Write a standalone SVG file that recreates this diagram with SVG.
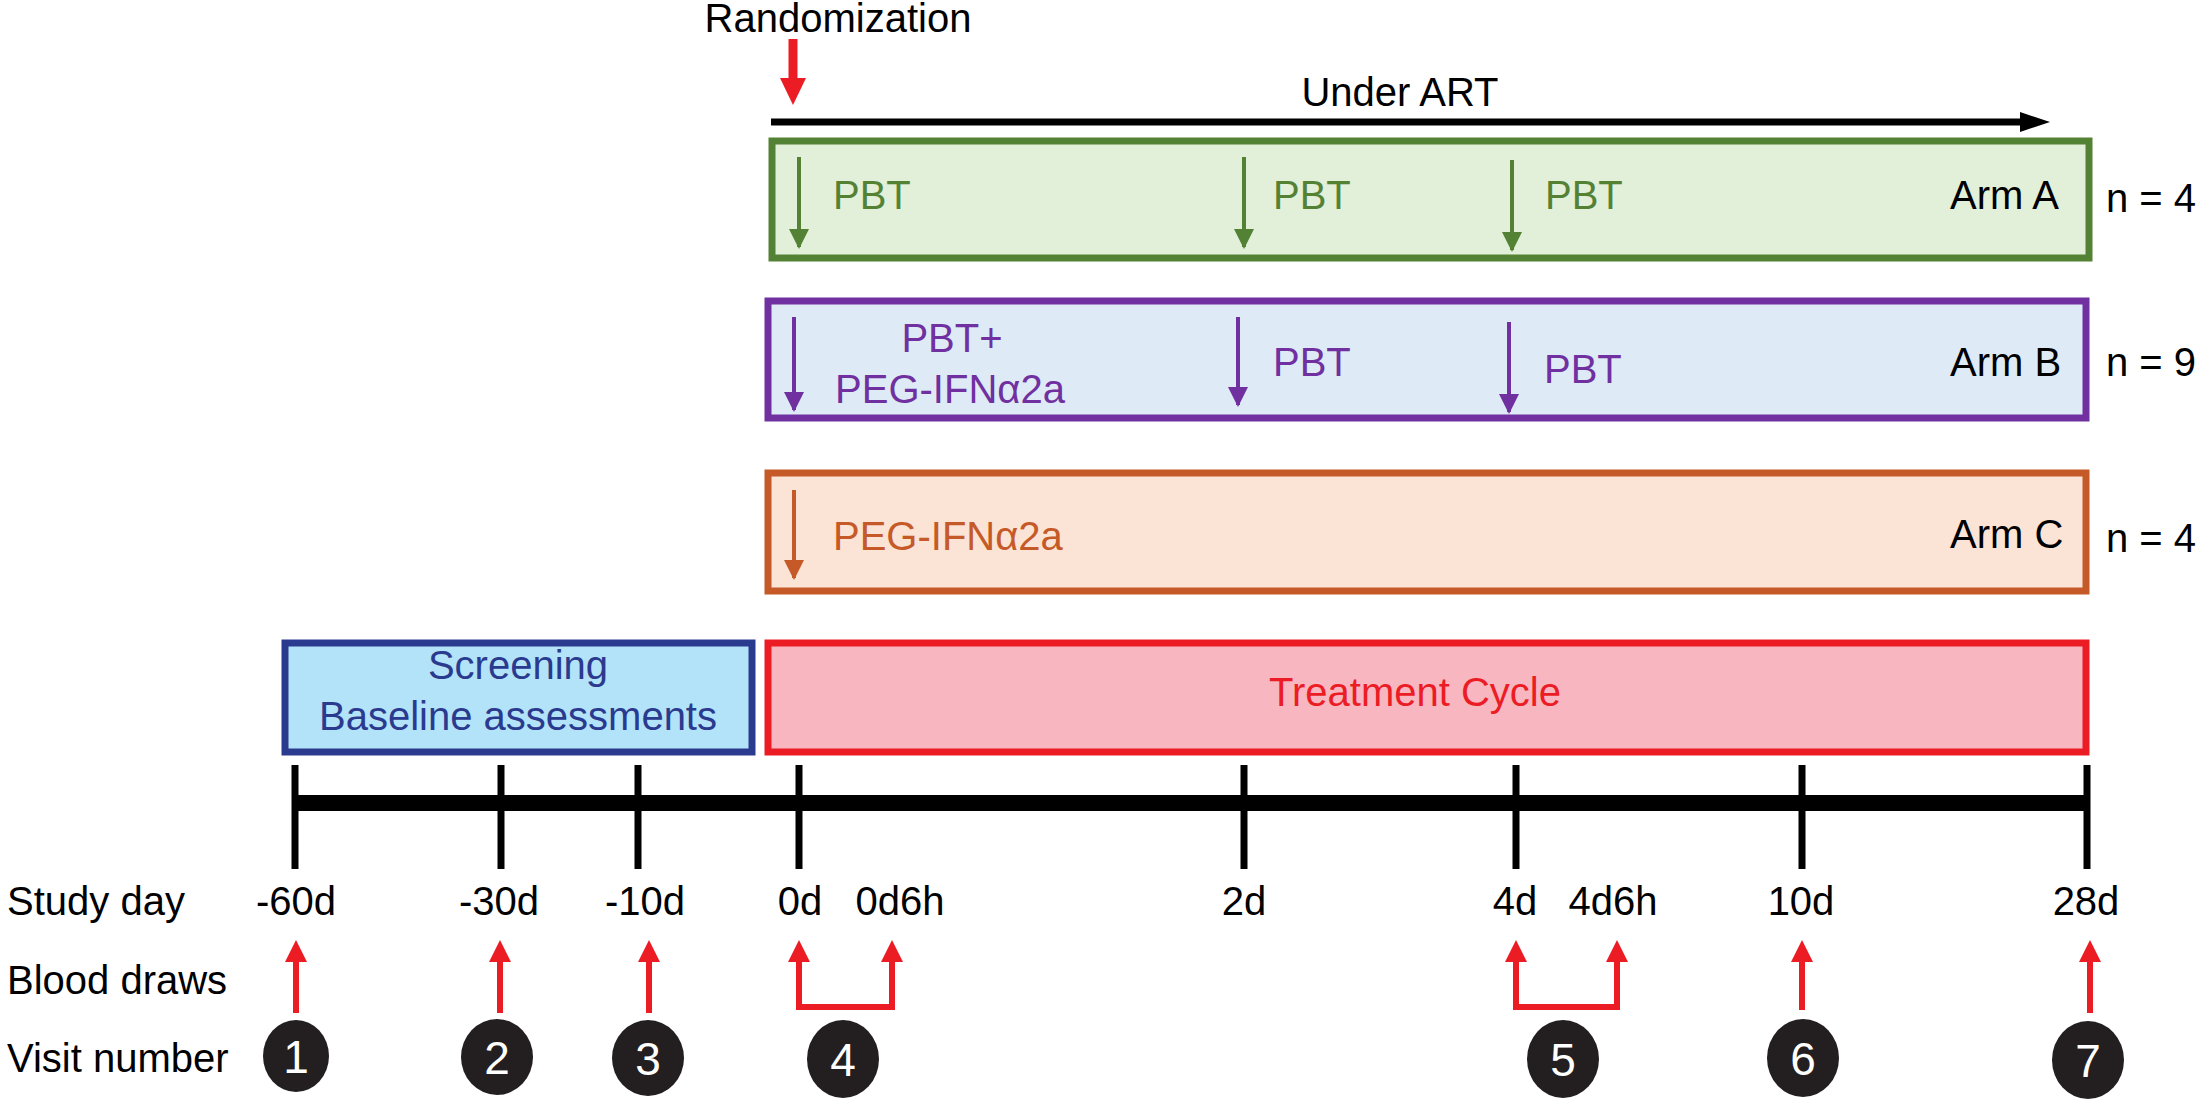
<svg xmlns="http://www.w3.org/2000/svg" width="2201" height="1101" viewBox="0 0 2201 1101">
<defs>
<style>
text{font-family:"Liberation Sans",Arial,sans-serif;font-size:40px}
.m{text-anchor:middle}
.g{fill:#548235}.p{fill:#7030a0}.o{fill:#c55a28}
.tick{stroke:#000;stroke-width:7}
.red{stroke:#ec1c24;stroke-width:6;fill:none}
.num{fill:#fff;font-size:46px;text-anchor:middle}
</style>
<marker id="ag" viewBox="0 0 10 10" refX="9" refY="5" markerWidth="8" markerHeight="5" orient="auto" markerUnits="strokeWidth"><path d="M0 0L10 5L0 10z" fill="#548235"/></marker>
<marker id="ap" viewBox="0 0 10 10" refX="9" refY="5" markerWidth="8" markerHeight="5" orient="auto" markerUnits="strokeWidth"><path d="M0 0L10 5L0 10z" fill="#7030a0"/></marker>
<marker id="ao" viewBox="0 0 10 10" refX="9" refY="5" markerWidth="8" markerHeight="5" orient="auto" markerUnits="strokeWidth"><path d="M0 0L10 5L0 10z" fill="#c55a28"/></marker>
</defs>

<g id="randomization">
<text class="m" x="838" y="32">Randomization</text>
<path d="M793 39V80" stroke="#ec1c24" stroke-width="9"/>
<path d="M780 78L793 105L806 78z" fill="#ec1c24"/>
</g>
<g id="under-art">
<text class="m" x="1400" y="106">Under ART</text>
<path d="M771 122H2025" stroke="#000" stroke-width="7"/>
<path d="M2020 112L2050 122L2020 132z" fill="#000"/>
</g>

<g id="armA">
<rect x="772" y="141" width="1317" height="117" fill="#e2efd9" stroke="#548235" stroke-width="7"/>
<text class="g" x="833" y="209">PBT</text>
<text class="g" x="1273" y="209">PBT</text>
<text class="g" x="1545" y="209">PBT</text>
<text x="1950" y="209">Arm A</text>
</g>
<g id="armB">
<rect x="768" y="301" width="1318" height="117" fill="#deebf7" stroke="#7030a0" stroke-width="7"/>
<text class="p m" x="952" y="352">PBT+</text>
<text class="p m" x="950" y="403">PEG-IFNα2a</text>
<text class="p" x="1273" y="376">PBT</text>
<text class="p" x="1544" y="383">PBT</text>
<text x="1950" y="376">Arm B</text>
</g>
<g id="armC">
<rect x="768" y="473" width="1318" height="118" fill="#fbe3d6" stroke="#c55a28" stroke-width="7"/>
<text class="o" x="833" y="550">PEG-IFNα2a</text>
<text x="1950" y="548">Arm C</text>
</g>
<g id="n-labels">
<text x="2106" y="212">n = 4</text>
<text x="2106" y="376">n = 9</text>
<text x="2106" y="552">n = 4</text>
</g>

<g id="screening">
<rect x="285" y="643" width="467" height="109" fill="#b3e3f8" stroke="#2a3a8f" stroke-width="7"/>
<text class="m" x="518" y="679" fill="#2a3a8f">Screening</text>
<text class="m" x="518" y="730" fill="#2a3a8f">Baseline assessments</text>
</g>
<g id="treatment">
<rect x="768" y="643" width="1318" height="109" fill="#f8b6c1" stroke="#ec1c24" stroke-width="7"/>
<text class="m" x="1415" y="706" fill="#ec1c24">Treatment Cycle</text>
</g>

<g id="connectors">
<path d="M799 157V247" stroke="#548235" stroke-width="4" marker-end="url(#ag)"/>
<path d="M1244 157V247" stroke="#548235" stroke-width="4" marker-end="url(#ag)"/>
<path d="M1512 160V250" stroke="#548235" stroke-width="4" marker-end="url(#ag)"/>
<path d="M794 317V410" stroke="#7030a0" stroke-width="4" marker-end="url(#ap)"/>
<path d="M1238 317V405" stroke="#7030a0" stroke-width="4" marker-end="url(#ap)"/>
<path d="M1509 322V412" stroke="#7030a0" stroke-width="4" marker-end="url(#ap)"/>
<path d="M794 490V578" stroke="#c55a28" stroke-width="4" marker-end="url(#ao)"/>
</g>

<g id="timeline">
<path d="M292 803H2089" stroke="#000" stroke-width="16"/>
<path class="tick" d="M295 765V869M501 765V869M638 765V869M799 765V869M1244 765V869M1516 765V869M1802 765V869M2087 765V869"/>
</g>

<g id="labels">
<text x="7" y="915">Study day</text>
<text x="7" y="994">Blood draws</text>
<text x="7" y="1072">Visit number</text>
<text class="m" x="296" y="915">-60d</text>
<text class="m" x="499" y="915">-30d</text>
<text class="m" x="645" y="915">-10d</text>
<text class="m" x="800" y="915">0d</text>
<text class="m" x="900" y="915">0d6h</text>
<text class="m" x="1244" y="915">2d</text>
<text class="m" x="1515" y="915">4d</text>
<text class="m" x="1613" y="915">4d6h</text>
<text class="m" x="1801" y="915">10d</text>
<text class="m" x="2086" y="915">28d</text>
</g>

<g id="blood-draws">
<path class="red" d="M296 1013V960M500 1013V960M649 1013V960M1802 1010V960M2090 1013V960"/>
<path class="red" d="M799 960V1007H892V960"/>
<path class="red" d="M1516 960V1007H1617V960"/>
<g fill="#ec1c24">
<path d="M285 962L296 940L307 962z"/><path d="M489 962L500 940L511 962z"/><path d="M638 962L649 940L660 962z"/>
<path d="M788 962L799 940L810 962z"/><path d="M881 962L892 940L903 962z"/>
<path d="M1505 962L1516 940L1527 962z"/><path d="M1606 962L1617 940L1628 962z"/>
<path d="M1791 962L1802 940L1813 962z"/><path d="M2079 962L2090 940L2101 962z"/>
</g>
</g>

<g id="visits">
<g fill="#231f20">
<ellipse cx="296" cy="1056" rx="33" ry="36"/><ellipse cx="497" cy="1057" rx="36" ry="38"/><ellipse cx="648" cy="1058" rx="36" ry="38"/>
<ellipse cx="843" cy="1059" rx="36" ry="39"/><ellipse cx="1563" cy="1059" rx="36" ry="39"/><ellipse cx="1803" cy="1058" rx="36" ry="39"/><ellipse cx="2088" cy="1060" rx="36" ry="39"/>
</g>
<text class="num" x="296" y="1073">1</text>
<text class="num" x="497" y="1074">2</text>
<text class="num" x="648" y="1075">3</text>
<text class="num" x="843" y="1076">4</text>
<text class="num" x="1563" y="1076">5</text>
<text class="num" x="1803" y="1075">6</text>
<text class="num" x="2088" y="1077">7</text>
</g>
</svg>
